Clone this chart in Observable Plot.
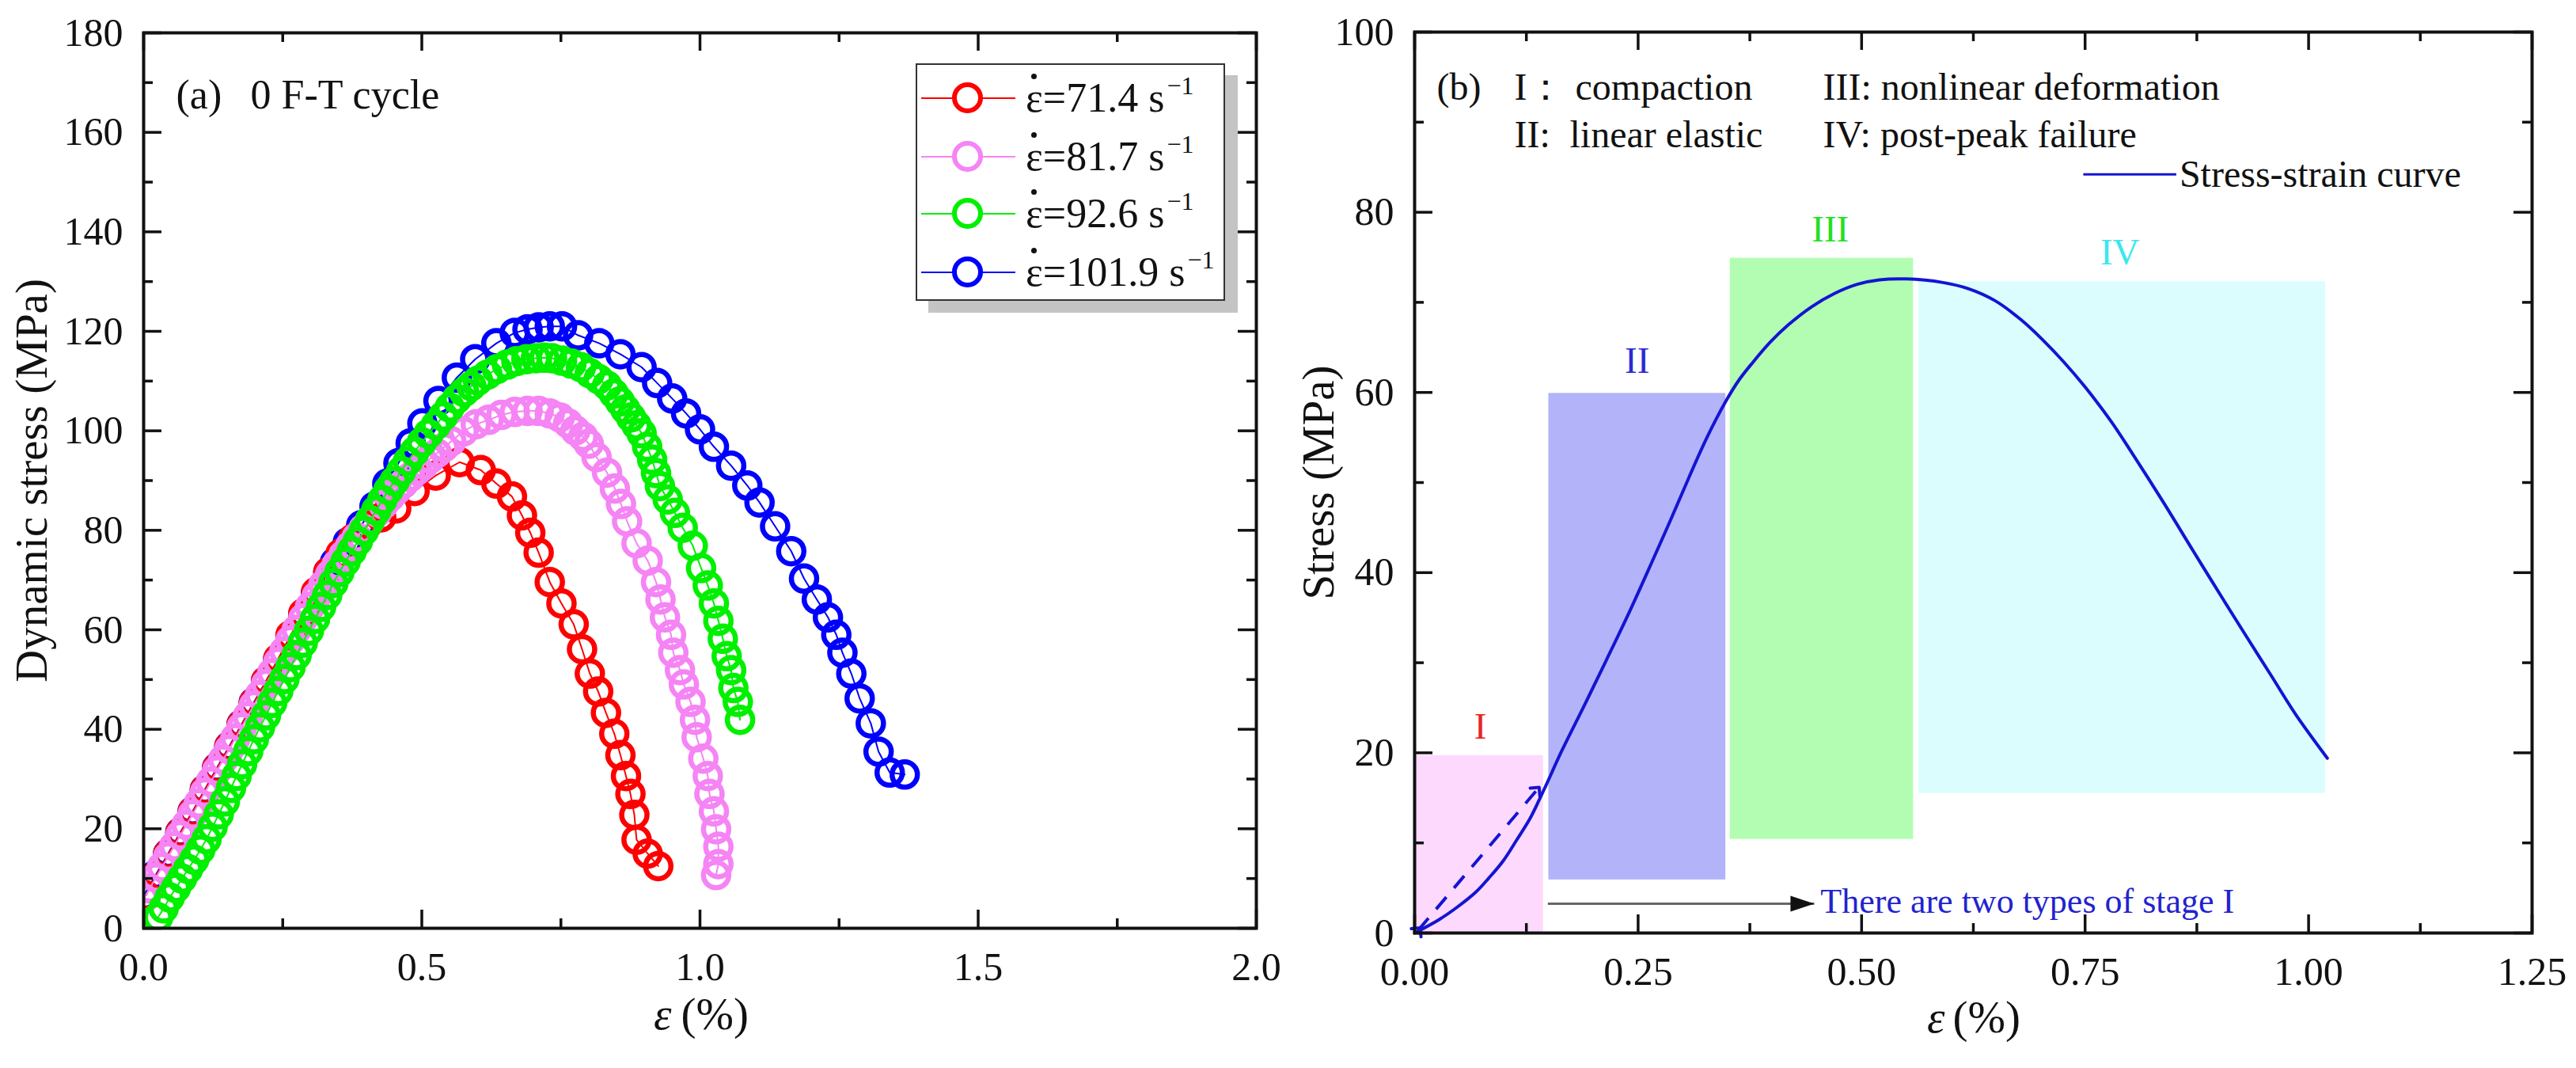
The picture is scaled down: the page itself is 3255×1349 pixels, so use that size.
<!DOCTYPE html>
<html>
<head>
<meta charset="utf-8">
<script src="https://cdn.jsdelivr.net/npm/d3@7"></script>
<script src="https://cdn.jsdelivr.net/npm/@observablehq/plot@0.6"></script>
<style>
html,body{margin:0;padding:0;background:#fff;}
#wrap{position:relative;width:3255px;height:1349px;overflow:hidden;font-family:"Liberation Serif","Times New Roman",Times,serif;color:#111;}
#left,#right{position:absolute;top:0;}
#left{left:0;}
#right{left:1620px;}
.legend{position:absolute;left:1157px;top:80px;width:391px;height:300px;box-sizing:border-box;border:2.5px solid #333;background:#fff;box-shadow:16px 15px 0 #c4c4c4;}
.row{position:absolute;left:0;width:100%;height:60px;}
.ln{position:absolute;left:4.5px;width:119px;top:29px;height:2.2px;}
.mk{position:absolute;left:44px;top:10.75px;width:38.5px;height:38.5px;box-sizing:border-box;border:6.5px solid;border-radius:50%;background:#fff;}
.tx{position:absolute;left:137px;top:0;font-size:52px;line-height:60px;white-space:nowrap;}
.ed{position:relative;display:inline-block;}
.ed::after{content:"";position:absolute;left:50%;top:-1px;width:7px;height:7px;margin-left:-3.5px;background:#111;border-radius:50%;}
.sup{position:relative;top:-22px;font-size:32px;margin-left:3px;}
</style>
</head>
<body>
<div id="wrap">
  <div id="left"></div>
  <div id="right"></div>
</div>
<script>
const FONT = '"Liberation Serif","Times New Roman",Times,serif';

// ---------- Panel (a): dynamic stress-strain curves, 0 F-T cycle ----------
const strainRates = ["71.4", "81.7", "92.6", "101.9"];
const seriesColors = ["#ff0000", "#f584f5", "#00f000", "#0000ff"];

// [strain %, stress MPa]
const rate71 = [[0.004,6.6],[0.022,10.5],[0.044,14.9],[0.066,19.2],[0.088,23.4],[0.11,27.8],[0.132,32.2],[0.154,36.5],[0.176,40.9],[0.198,45.3],[0.22,49.7],[0.242,54.2],[0.264,58.9],[0.287,63.3],[0.31,67.6],[0.332,71.6],[0.354,75.3],[0.377,78.4],[0.40,80.8],[0.427,82.6],[0.454,84.4],[0.487,87.9],[0.525,91.0],[0.568,93.7],[0.606,92.1],[0.634,89.4],[0.662,86.8],[0.68,83.0],[0.695,79.5],[0.71,75.5],[0.73,69.6],[0.751,65.3],[0.773,61.1],[0.788,56.1],[0.802,51.2],[0.817,47.6],[0.831,43.3],[0.846,39.1],[0.857,34.8],[0.867,30.6],[0.875,27.0],[0.882,22.8],[0.886,17.8],[0.906,15.0],[0.925,12.5]];
const rate81 = [[0.0,6.0],[0.011,8.0],[0.022,10.2],[0.033,12.3],[0.044,14.4],[0.055,16.5],[0.066,18.7],[0.077,20.8],[0.088,22.9],[0.099,25.1],[0.110,27.3],[0.121,29.5],[0.132,31.7],[0.143,33.9],[0.154,36.0],[0.165,38.2],[0.176,40.4],[0.187,42.6],[0.198,44.8],[0.209,46.9],[0.220,49.1],[0.231,51.3],[0.242,53.5],[0.253,55.7],[0.264,57.9],[0.275,60.0],[0.287,62.3],[0.299,64.6],[0.311,66.8],[0.323,69.0],[0.335,71.1],[0.347,73.1],[0.359,75.0],[0.371,76.8],[0.383,78.6],[0.395,80.3],[0.407,82.0],[0.419,83.6],[0.431,85.2],[0.443,86.7],[0.455,88.1],[0.467,89.4],[0.479,90.7],[0.491,92.0],[0.503,93.2],[0.515,94.4],[0.527,95.5],[0.540,96.7],[0.553,97.9],[0.575,99.9],[0.597,101.3],[0.62,102.2],[0.643,103.2],[0.667,103.8],[0.69,104.0],[0.71,104.0],[0.73,103.5],[0.748,102.7],[0.763,101.5],[0.776,100.1],[0.79,98.8],[0.80,97.4],[0.814,94.7],[0.833,91.6],[0.847,88.4],[0.858,85.3],[0.869,81.8],[0.886,77.4],[0.906,73.9],[0.921,69.6],[0.929,66.1],[0.937,62.5],[0.948,59.0],[0.952,55.4],[0.964,51.9],[0.971,49.0],[0.983,45.5],[0.991,41.9],[0.994,38.4],[1.006,34.1],[1.014,30.6],[1.017,27.0],[1.025,23.5],[1.029,19.9],[1.033,16.4],[1.033,12.9],[1.029,10.7]];
const rate92 = [[0.026,2.2],[0.036,4.0],[0.047,6.2],[0.058,8.1],[0.069,10.0],[0.080,11.9],[0.091,13.8],[0.102,15.8],[0.113,17.9],[0.124,20.4],[0.135,22.9],[0.146,25.5],[0.157,28.2],[0.167,30.6],[0.177,33.0],[0.188,35.6],[0.198,38.0],[0.209,40.4],[0.220,42.8],[0.231,45.3],[0.242,47.7],[0.253,50.1],[0.264,52.5],[0.275,54.9],[0.286,57.4],[0.297,59.8],[0.308,62.2],[0.319,64.6],[0.330,67.0],[0.341,69.4],[0.352,71.6],[0.363,73.7],[0.374,75.8],[0.385,77.8],[0.396,79.9],[0.407,82.0],[0.418,84.0],[0.429,86.1],[0.44,88.1],[0.451,89.9],[0.463,91.9],[0.475,93.9],[0.487,95.8],[0.5,97.7],[0.512,99.4],[0.525,101.1],[0.538,102.9],[0.55,104.7],[0.563,106.4],[0.576,107.8],[0.589,109.0],[0.601,110.1],[0.618,111.3],[0.635,112.4],[0.653,113.3],[0.67,114.0],[0.688,114.4],[0.705,114.6],[0.72,114.7],[0.734,114.6],[0.752,114.1],[0.769,113.5],[0.786,112.8],[0.802,111.6],[0.818,110.4],[0.833,109.1],[0.845,107.5],[0.856,105.9],[0.866,104.3],[0.876,102.7],[0.886,101.1],[0.895,99.5],[0.905,96.8],[0.914,94.2],[0.921,91.5],[0.928,88.9],[0.942,86.2],[0.955,83.5],[0.969,80.5],[0.987,76.9],[1.002,72.4],[1.014,68.9],[1.025,65.3],[1.033,61.8],[1.041,58.2],[1.048,54.7],[1.056,51.9],[1.06,48.3],[1.068,45.5],[1.072,41.9]];
const rate101 = [[0.0,6.5],[0.022,10.8],[0.044,15.0],[0.066,19.3],[0.088,23.5],[0.11,27.9],[0.132,32.3],[0.154,36.6],[0.176,41.0],[0.198,45.4],[0.22,49.7],[0.242,54.1],[0.264,58.5],[0.287,63.0],[0.31,67.5],[0.332,71.6],[0.344,73.6],[0.367,77.6],[0.391,81.0],[0.415,84.8],[0.438,89.4],[0.458,93.5],[0.48,97.5],[0.501,101.5],[0.53,106.0],[0.563,110.7],[0.596,114.4],[0.634,117.6],[0.667,119.7],[0.69,120.4],[0.71,120.8],[0.73,121.0],[0.752,121.0],[0.781,119.2],[0.819,117.6],[0.857,115.4],[0.895,112.8],[0.923,109.6],[0.95,106.5],[0.975,103.5],[1.0,100.3],[1.025,96.8],[1.056,93.0],[1.085,89.0],[1.107,85.6],[1.135,80.8],[1.164,75.8],[1.187,70.3],[1.21,66.1],[1.23,62.5],[1.245,59.0],[1.256,55.4],[1.272,51.2],[1.287,46.2],[1.307,41.2],[1.321,35.5],[1.341,31.3],[1.368,30.9]];
const seriesData = [rate71, rate81, rate92, rate101];
const drawOrder = [3, 0, 1, 2];

const xMajorA = [0, 0.5, 1.0, 1.5, 2.0];
const xMinorA = [0.25, 0.75, 1.25, 1.75];
const yMajorA = [0, 20, 40, 60, 80, 100, 120, 140, 160, 180];
const yMinorA = [10, 30, 50, 70, 90, 110, 130, 150, 170];

// ---------- Panel (b): typical stress-strain curve with stages ----------
const curveStrain = [0.0,0.0275,0.048,0.068,0.083,0.099,0.114,0.129,0.139,0.147,0.165,0.19,0.215,0.241,0.266,0.287,0.307,0.327,0.348,0.363,0.378,0.398,0.418,0.444,0.47,0.495,0.52,0.55,0.591,0.62,0.649,0.678,0.702,0.726,0.75,0.779,0.803,0.837,0.871,0.904,0.928,0.958,0.986,1.021];
const curveStress = [0.0,1.5,2.9,4.5,6.1,8.0,10.3,12.7,14.7,16.4,20.3,25.3,30.4,35.8,41.3,46.0,50.6,55.0,59.0,61.4,63.3,65.6,67.5,69.5,71.0,72.0,72.5,72.6,72.2,71.5,70.2,68.1,65.9,63.4,60.6,56.8,53.2,47.9,42.4,37.1,33.3,28.6,24.2,19.4];

const stageNames = ["I", "II", "III", "IV"];
const stageX1 = [0.0, 0.150, 0.353, 0.564];
const stageX2 = [0.144, 0.348, 0.558, 1.019];
const stageY1 = [0.0, 5.9, 10.4, 15.5];
const stageY2 = [19.7, 59.9, 74.9, 72.3];
const stageFill = ["#fdd9fd", "#b3b3fa", "#b3fdb3", "#dbfdfd"];
const stageLabelX = [0.0735, 0.249, 0.465, 0.789];
const stageLabelY = [22.9, 63.5, 78.1, 75.5];
const stageLabelColor = ["#e42626", "#2b2bd6", "#22e022", "#3ae8ee"];

const dashedStart = [0.004, 0.3];
const dashedEnd = [0.137, 15.9];
const noteArrow = {x1: 0.149, x2: 0.447, y: 3.25};
const noteText = {x: 0.454, y: 3.5, text: "There are two types of stage I"};
const curveKey = {x1: 0.748, x2: 0.852, y: 84.2, text: "Stress-strain curve"};

const xMajorB = [0, 0.25, 0.5, 0.75, 1.0, 1.25];
const xMinorB = [0.125, 0.375, 0.625, 0.875, 1.125];
const yMajorB = [0, 20, 40, 60, 80, 100];
const yMinorB = [10, 30, 50, 70, 90];

// ---------- helpers ----------
function inwardTicks(xMaj, xMin, yMaj, yMin, pw, ph) {
  const s = {stroke: "#111", strokeWidth: 3.5};
  const M = 23, m = 12;
  return [
    Plot.tickX(xMaj, {x: d => d, insetTop: ph - M, ...s}),
    Plot.tickX(xMaj, {x: d => d, insetBottom: ph - M, ...s}),
    Plot.tickX(xMin, {x: d => d, insetTop: ph - m, ...s}),
    Plot.tickX(xMin, {x: d => d, insetBottom: ph - m, ...s}),
    Plot.tickY(yMaj, {y: d => d, insetRight: pw - M, ...s}),
    Plot.tickY(yMaj, {y: d => d, insetLeft: pw - M, ...s}),
    Plot.tickY(yMin, {y: d => d, insetRight: pw - m, ...s}),
    Plot.tickY(yMin, {y: d => d, insetLeft: pw - m, ...s})
  ];
}

// ---------- left plot ----------
const LW = 1620, H = 1349;
const lm = {l: 181, r: 33, t: 41, b: 177};
const lpw = LW - lm.l - lm.r, lph = H - lm.t - lm.b;

const leftMarks = [];
for (const i of drawOrder) {
  leftMarks.push(Plot.line(seriesData[i], {x: d => d[0], y: d => d[1], stroke: seriesColors[i], strokeWidth: 2, clip: true}));
  leftMarks.push(Plot.dot(seriesData[i], {x: d => d[0], y: d => d[1], r: 16, stroke: seriesColors[i], strokeWidth: 6.5, fill: "none", clip: true}));
}

const leftPlot = Plot.plot({
  width: LW, height: H,
  marginLeft: lm.l, marginRight: lm.r, marginTop: lm.t, marginBottom: lm.b,
  x: {domain: [0, 2]},
  y: {domain: [0, 180]},
  style: {fontFamily: FONT, fontSize: "50px", color: "#111", background: "transparent", overflow: "visible"},
  marks: [
    ...leftMarks,
    Plot.frame({stroke: "#111", strokeWidth: 4}),
    ...inwardTicks(xMajorA, xMinorA, yMajorA, yMinorA, lpw, lph),
    Plot.axisX({ticks: xMajorA, tickSize: 0, tickPadding: 30, tickFormat: d3.format(".1f"), fontSize: 50, label: null}),
    Plot.axisY({ticks: yMajorA, tickSize: 0, tickPadding: 26, tickFormat: d3.format("d"), fontSize: 50, label: null}),
    Plot.text(["Dynamic stress (MPa)"], {text: d => d, frameAnchor: "left", textAnchor: "middle", rotate: -90, dx: -141, fontSize: 57, fill: "#111"}),
    Plot.text(["\u03b5"], {text: d => d, frameAnchor: "bottom", dx: -36, dy: 127, textAnchor: "end", fontSize: 57, fontStyle: "italic", fill: "#111"}),
    Plot.text(["(%)"], {text: d => d, frameAnchor: "bottom", dx: -24, dy: 127, textAnchor: "start", fontSize: 57, fill: "#111"}),
    Plot.text(["(a)"], {text: d => d, frameAnchor: "top-left", dx: 41, dy: 59, textAnchor: "start", fontSize: 52, fill: "#111"}),
    Plot.text(["0 F-T cycle"], {text: d => d, frameAnchor: "top-left", dx: 135, dy: 59, textAnchor: "start", fontSize: 52, fill: "#111"})
  ]
});
document.getElementById("left").appendChild(leftPlot);

// legend (a)
const leg = document.createElement("div");
leg.className = "legend";
const rowTops = [11.5, 85.5, 157.5, 231.5];
strainRates.forEach((r, i) => {
  const row = document.createElement("div");
  row.className = "row";
  row.style.top = rowTops[i] + "px";
  row.innerHTML = `<div class="ln" style="background:${seriesColors[i]}"></div>` +
    `<div class="mk" style="border-color:${seriesColors[i]}"></div>` +
    `<div class="tx"><span class="ed">\u03b5</span>=${r} s<span class="sup">\u22121</span></div>`;
  leg.appendChild(row);
});
document.getElementById("wrap").appendChild(leg);

// ---------- right plot ----------
const RW = 1635;
const rm = {l: 167, r: 56, t: 40, b: 171};
const rpw = RW - rm.l - rm.r, rph = H - rm.t - rm.b;
const curve = curveStrain.map((x, i) => ({x, y: curveStress[i]}));
const stages = stageNames.map((n, i) => ({n, x1: stageX1[i], x2: stageX2[i], y1: stageY1[i], y2: stageY2[i], fill: stageFill[i], lx: stageLabelX[i], ly: stageLabelY[i], lc: stageLabelColor[i]}));

const arrowHead = {draw(ctx) { ctx.moveTo(0, 0); ctx.lineTo(-30, -10); ctx.lineTo(-30, 10); ctx.closePath(); }};
const BLUE = "#1414d2";

const headerRows = [
  {t: "(b)", dx: 28, dy: 51}, {t: "I\uff1a", dx: 126, dy: 51}, {t: "compaction", dx: 203, dy: 51},
  {t: "III: nonlinear deformation", dx: 516, dy: 51},
  {t: "II:", dx: 126, dy: 111}, {t: "linear elastic", dx: 196, dy: 111},
  {t: "IV: post-peak failure", dx: 516, dy: 111}
];

const rightPlot = Plot.plot({
  width: RW, height: H,
  marginLeft: rm.l, marginRight: rm.r, marginTop: rm.t, marginBottom: rm.b,
  x: {domain: [0, 1.25]},
  y: {domain: [0, 100]},
  style: {fontFamily: FONT, fontSize: "50px", color: "#111", background: "transparent", overflow: "visible"},
  marks: [
    ...stages.map(s => Plot.rect([s], {x1: "x1", x2: "x2", y1: "y1", y2: "y2", fill: s.fill})),
    ...stages.map(s => Plot.text([s], {x: "lx", y: "ly", text: "n", fill: s.lc, fontSize: 47})),
    Plot.line(curve, {x: "x", y: "y", stroke: BLUE, strokeWidth: 4, curve: "catmull-rom"}),
    Plot.link([{x1: dashedStart[0], y1: dashedStart[1], x2: dashedEnd[0], y2: dashedEnd[1]}], {x1: "x1", y1: "y1", x2: "x2", y2: "y2", stroke: BLUE, strokeWidth: 4, strokeDasharray: "20,15", markerStart: "arrow", markerEnd: "arrow"}),
    Plot.link([noteArrow], {x1: "x1", x2: "x2", y1: "y", y2: "y", stroke: "#666", strokeWidth: 3}),
    Plot.dot([noteArrow], {x: "x2", y: "y", symbol: arrowHead, fill: "#111", stroke: "none"}),
    Plot.text([noteText], {x: "x", y: "y", text: "text", textAnchor: "start", fill: "#2222d0", fontSize: 44}),
    Plot.link([curveKey], {x1: "x1", x2: "x2", y1: "y", y2: "y", stroke: BLUE, strokeWidth: 3}),
    Plot.text([curveKey], {x: "x2", y: "y", text: "text", textAnchor: "start", dx: 4, fill: "#111", fontSize: 48}),
    ...headerRows.map(h => Plot.text([h.t], {text: d => d, frameAnchor: "top-left", dx: h.dx, dy: h.dy, textAnchor: "start", fontSize: 48, fill: "#111"})),
    Plot.frame({stroke: "#111", strokeWidth: 4}),
    ...inwardTicks(xMajorB, xMinorB, yMajorB, yMinorB, rpw, rph),
    Plot.axisX({ticks: xMajorB, tickSize: 0, tickPadding: 30, tickFormat: d3.format(".2f"), fontSize: 50, label: null}),
    Plot.axisY({ticks: yMajorB, tickSize: 0, tickPadding: 26, tickFormat: d3.format("d"), fontSize: 50, label: null}),
    Plot.text(["Stress (MPa)"], {text: d => d, frameAnchor: "left", textAnchor: "middle", rotate: -90, dx: -121, fontSize: 57, fill: "#111"}),
    Plot.text(["\u03b5"], {text: d => d, frameAnchor: "bottom", dx: -36, dy: 125, textAnchor: "end", fontSize: 57, fontStyle: "italic", fill: "#111"}),
    Plot.text(["(%)"], {text: d => d, frameAnchor: "bottom", dx: -26, dy: 125, textAnchor: "start", fontSize: 57, fill: "#111"})
  ]
});
document.getElementById("right").appendChild(rightPlot);
</script>
</body>
</html>
